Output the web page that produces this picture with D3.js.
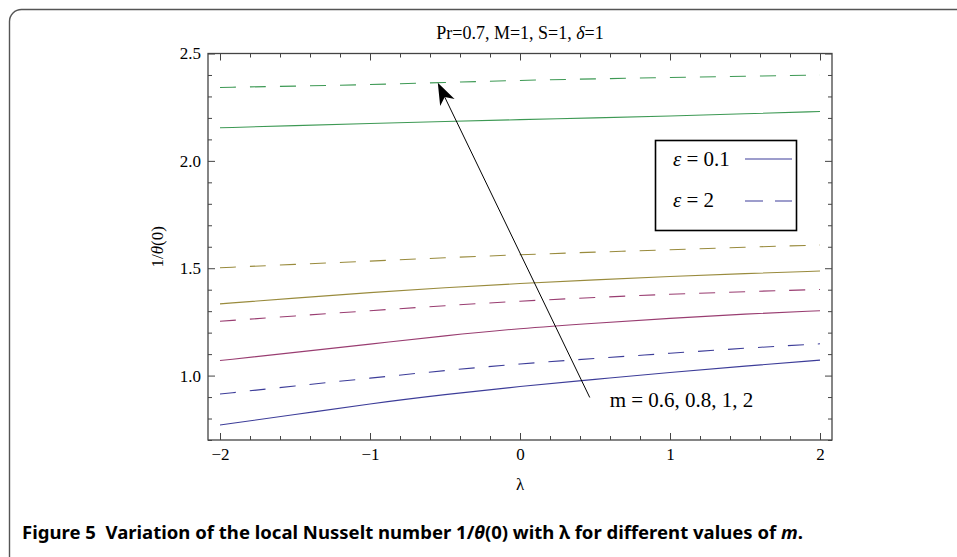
<!DOCTYPE html>
<html>
<head>
<meta charset="utf-8">
<script src="https://cdn.jsdelivr.net/npm/d3@7"></script>
<style>
  body { margin: 0; background: #fff; }
  svg { display: block; }
  .domain { display: none; }
  .line { fill: none; stroke-width: 1.1; }
  svg .axis text { font-family: "Liberation Serif", "Times New Roman", serif; font-size: 17px; fill: #000; }
</style>
</head>
<body>
<div id="chart"></div>
<script>
//Data
var lambda = [-2, -1.5, -1, -0.5, 0, 0.5, 1, 1.5, 2];

// eps = 0.1 (solid)
var m06_eps01 = [0.770, 0.818, 0.869, 0.912, 0.950, 0.982, 1.015, 1.044, 1.072];
var m08_eps01 = [1.070, 1.108, 1.146, 1.186, 1.220, 1.244, 1.267, 1.287, 1.302];
var m1_eps01  = [1.334, 1.361, 1.387, 1.410, 1.429, 1.446, 1.462, 1.475, 1.487];
var m2_eps01  = [2.154, 2.164, 2.174, 2.183, 2.192, 2.200, 2.209, 2.219, 2.230];

// eps = 2 (dashed)
var m06_eps2 = [0.914, 0.952, 0.988, 1.024, 1.055, 1.080, 1.104, 1.128, 1.148];
var m08_eps2 = [1.253, 1.278, 1.302, 1.326, 1.347, 1.364, 1.379, 1.391, 1.401];
var m1_eps2  = [1.502, 1.518, 1.533, 1.549, 1.563, 1.575, 1.586, 1.598, 1.608];
var m2_eps2  = [2.342, 2.348, 2.355, 2.365, 2.375, 2.382, 2.388, 2.394, 2.400];

var mColors = ["#3d3d99", "#993d71", "#998b3d", "#3d9954"];

var xMajor = [-2, -1, 0, 1, 2];
var yMajor = [1.0, 1.5, 2.0, 2.5];

// annotation arrow (data units)
var arrowTail = [0.465, 0.898];
var arrowTip = [-0.548, 2.364];
var arrowLabelPos = [0.598, 0.856];

// svg size and plot frame
var width = 957, height = 557;
var frame = {left: 208, right: 832, top: 53.5, bottom: 440};
var serif = "'Liberation Serif', 'Times New Roman', serif";

var svg = d3.select("#chart").append("svg")
    .attr("width", width)
    .attr("height", height)
    .style("background-color", "#fff");

// outer figure border (rounded, runs off the page right/bottom)
svg.append("rect")
    .attr("x", 9.5).attr("y", 9.5)
    .attr("width", 1000).attr("height", 700)
    .attr("rx", 12).attr("ry", 12)
    .style("fill", "none")
    .style("stroke", "#555")
    .style("stroke-width", 1.4);

// set the ranges
var x = d3.scaleLinear().domain([-2.08, 2.08]).range([frame.left, frame.right]);
var y = d3.scaleLinear().domain([0.7, 2.5]).range([frame.bottom, frame.top]);

var xMinor = d3.range(-20, 21, 2).map(function(d) { return d / 10; })
    .filter(function(d) { return xMajor.indexOf(d) < 0; });
var yMinor = d3.range(7, 26, 1).map(function(d) { return d / 10; })
    .filter(function(d) { return yMajor.indexOf(d) < 0; });

function styleTicks(g) {
  g.attr("font-family", serif).attr("font-size", 17);
  g.selectAll(".tick line").attr("stroke", "#444").attr("stroke-width", 1);
  g.selectAll(".tick text").attr("fill", "#000");
}

//draw x axis (bottom, labelled)
var xAxisG = svg.append("g")
    .attr("class", "x axis")
    .attr("transform", "translate(0," + frame.bottom + ")");
xAxisG.call(d3.axisBottom(x).tickValues(xMajor).tickSize(-7).tickPadding(8).tickFormat(d3.format("d")));
styleTicks(xAxisG);

var g;
g = svg.append("g").attr("transform", "translate(0," + frame.bottom + ")");
g.call(d3.axisBottom(x).tickValues(xMinor).tickSize(-4).tickFormat(""));
styleTicks(g);

// top ticks
g = svg.append("g").attr("transform", "translate(0," + frame.top + ")");
g.call(d3.axisTop(x).tickValues(xMajor).tickSize(-7).tickFormat(""));
styleTicks(g);
g = svg.append("g").attr("transform", "translate(0," + frame.top + ")");
g.call(d3.axisTop(x).tickValues(xMinor).tickSize(-4).tickFormat(""));
styleTicks(g);

//draw y axis (left, labelled)
var yAxisG = svg.append("g")
    .attr("class", "y axis")
    .attr("transform", "translate(" + frame.left + ",0)");
yAxisG.call(d3.axisLeft(y).tickValues(yMajor).tickSize(-7).tickPadding(7).tickFormat(d3.format(".1f")));
styleTicks(yAxisG);

g = svg.append("g").attr("transform", "translate(" + frame.left + ",0)");
g.call(d3.axisLeft(y).tickValues(yMinor).tickSize(-4).tickFormat(""));
styleTicks(g);

// right ticks
g = svg.append("g").attr("transform", "translate(" + frame.right + ",0)");
g.call(d3.axisRight(y).tickValues(yMajor).tickSize(-7).tickFormat(""));
styleTicks(g);
g = svg.append("g").attr("transform", "translate(" + frame.right + ",0)");
g.call(d3.axisRight(y).tickValues(yMinor).tickSize(-4).tickFormat(""));
styleTicks(g);

// frame
svg.append("rect")
    .attr("x", frame.left).attr("y", frame.top)
    .attr("width", frame.right - frame.left)
    .attr("height", frame.bottom - frame.top)
    .style("fill", "none")
    .style("stroke", "#444")
    .style("stroke-width", 1.3);

// define the line
var valueline = d3.line()
    .x(function(d) { return x(d[0]); })
    .y(function(d) { return y(d[1]); })
    .curve(d3.curveBasis);

var series = [
  {vals: m06_eps01, color: mColors[0], dashed: false},
  {vals: m08_eps01, color: mColors[1], dashed: false},
  {vals: m1_eps01,  color: mColors[2], dashed: false},
  {vals: m2_eps01,  color: mColors[3], dashed: false},
  {vals: m06_eps2,  color: mColors[0], dashed: true},
  {vals: m08_eps2,  color: mColors[1], dashed: true},
  {vals: m1_eps2,   color: mColors[2], dashed: true},
  {vals: m2_eps2,   color: mColors[3], dashed: true}
];

series.forEach(function(s) {
  svg.append("path")
      .datum(lambda.map(function(l, i) { return [l, s.vals[i]]; }))
      .attr("class", "line")
      .style("stroke", s.color)
      .style("stroke-dasharray", s.dashed ? "16,14" : null)
      .attr("d", valueline);
});

// arrow
var ax0 = x(arrowTail[0]), ay0 = y(arrowTail[1]);
var ax1 = x(arrowTip[0]), ay1 = y(arrowTip[1]);
var ang = Math.atan2(ay1 - ay0, ax1 - ax0);
var headLen = 22, headHalf = 8, notch = 16;
function pt(along, across) {
  return [ax1 - along * Math.cos(ang) - across * Math.sin(ang),
          ay1 - along * Math.sin(ang) + across * Math.cos(ang)];
}
svg.append("line")
    .attr("x1", ax0).attr("y1", ay0)
    .attr("x2", pt(notch, 0)[0]).attr("y2", pt(notch, 0)[1])
    .style("stroke", "#000")
    .style("stroke-width", 1);
svg.append("path")
    .attr("d", "M" + [pt(0, 0), pt(headLen, headHalf), pt(notch, 0), pt(headLen, -headHalf)].join("L") + "Z")
    .style("fill", "#000");

svg.append("text")
    .attr("x", x(arrowLabelPos[0]))
    .attr("y", y(arrowLabelPos[1]))
    .attr("font-family", serif)
    .attr("font-size", 21)
    .text("m = 0.6, 0.8, 1, 2");

// legend
var legend = svg.append("g").attr("class", "legend");
legend.append("rect")
    .attr("x", 655.5).attr("y", 140.5)
    .attr("width", 141).attr("height", 90)
    .style("fill", "#fff")
    .style("stroke", "#000")
    .style("stroke-width", 1.6);

var legendItems = [
  {label: "0.1", dashed: false, ty: 166, ly: 159},
  {label: "2", dashed: true, ty: 207, ly: 201}
];
legendItems.forEach(function(d) {
  var t = legend.append("text")
      .attr("x", 673).attr("y", d.ty)
      .attr("font-family", serif)
      .attr("font-size", 21);
  t.append("tspan").attr("font-style", "italic").text("\u03b5");
  t.append("tspan").text(" = " + d.label);
  legend.append("line")
      .attr("x1", 745).attr("x2", 792)
      .attr("y1", d.ly).attr("y2", d.ly)
      .style("stroke", mColors[0])
      .style("stroke-width", 1.1)
      .style("stroke-dasharray", d.dashed ? "18,12" : null);
});

// title
var title = svg.append("text")
    .attr("x", (frame.left + frame.right) / 2)
    .attr("y", 39)
    .attr("text-anchor", "middle")
    .attr("font-family", serif)
    .attr("font-size", 18);
title.append("tspan").text("Pr=0.7, M=1, S=1, ");
title.append("tspan").attr("font-style", "italic").text("\u03b4");
title.append("tspan").text("=1");

//draw y axis label
var ylab = svg.append("text")
    .attr("transform", "translate(163," + (frame.top + frame.bottom) / 2 + ") rotate(-90)")
    .attr("text-anchor", "middle")
    .attr("font-family", serif)
    .attr("font-size", 17);
ylab.append("tspan").text("1/");
ylab.append("tspan").attr("font-style", "italic").text("\u03b8");
ylab.append("tspan").text("(0)");

//draw x axis label
svg.append("text")
    .attr("x", (frame.left + frame.right) / 2)
    .attr("y", 490)
    .attr("text-anchor", "middle")
    .attr("font-family", serif)
    .attr("font-size", 17)
    .text("\u03bb");

// caption
var cap = svg.append("text")
    .attr("x", 22)
    .attr("y", 539)
    .attr("textLength", 781)
    .attr("lengthAdjust", "spacingAndGlyphs")
    .attr("xml:space", "preserve")
    .attr("font-family", "'Noto Sans', sans-serif")
    .attr("font-weight", "bold")
    .attr("font-size", 17);
cap.append("tspan").text("Figure 5  Variation of the local Nusselt number 1/");
cap.append("tspan").attr("font-style", "italic").text("\u03b8");
cap.append("tspan").text("(0) with \u03bb for different values of ");
cap.append("tspan").attr("font-style", "italic").text("m");
cap.append("tspan").text(".");
</script>
</body>
</html>
